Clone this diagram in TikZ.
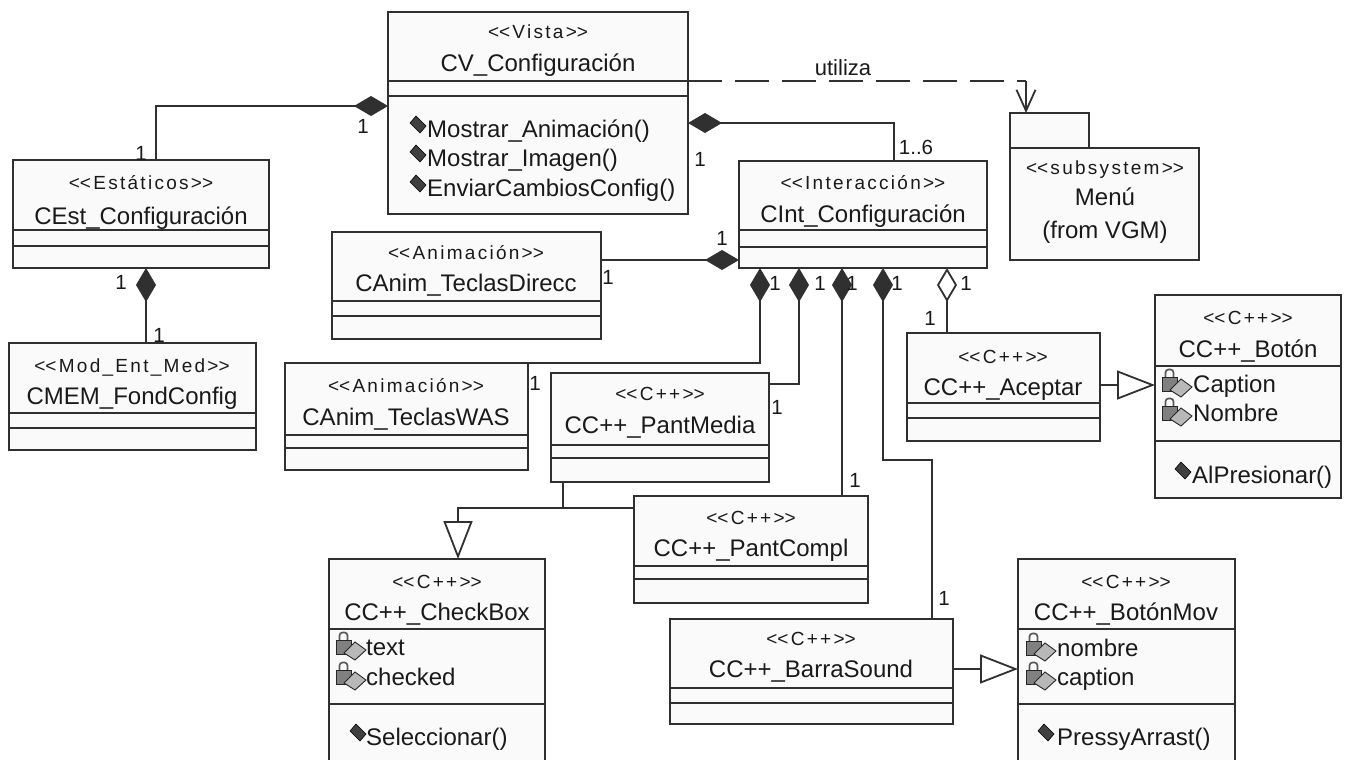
\documentclass[tikz,border=0pt]{standalone}
\usepackage{fontspec}
\setmainfont{Liberation Sans}
\newfontfamily\stfont{Liberation Sans}[LetterSpace=12]
\usetikzlibrary{arrows.meta}

\definecolor{linec}{HTML}{303030}
\definecolor{txtc}{HTML}{1A1A1A}
\definecolor{boxfill}{HTML}{FAFAFA}

\newcounter{lbl}

\tikzset{
  cbox/.style={draw=linec, fill=boxfill, line width=1.8pt, inner sep=0pt, outer sep=0pt},
  sepline/.style={draw=linec, line width=1.8pt},
  conn/.style={draw=linec, line width=1.8pt},
  comp/.style={conn, {Diamond[length=34pt, width=20pt, fill=linec]}-},
  aggr/.style={conn, {Diamond[open, length=34pt, width=20pt, fill=white]}-},
  gen/.style={conn, -{Triangle[open, length=38pt, width=29pt, fill=white]}},
  dep/.style={conn, dash pattern=on 34pt off 13pt},
  deptip/.style={conn, -{Straight Barb[length=21pt, width=19pt]}},
  stereo/.style={font=\stfont\fontsize{19}{22}\selectfont, text=txtc, anchor=base, inner sep=0pt},
  cname/.style={font=\fontsize{24}{28}\selectfont, text=txtc, anchor=base, inner sep=0pt},
  member/.style={font=\fontsize{24}{28}\selectfont, text=txtc, anchor=base west, inner sep=0pt},
  mult/.style={font=\fontsize{20.5}{24}\selectfont, text=txtc, anchor=base, inner sep=0pt},
  lockicon/.pic={
    \draw[line width=1.7pt, draw=black!65, rounded corners=3pt]
      (3.5,-14) -- (3.5,-22.5) -- (11.5,-22.5) -- (11.5,-14);
    \filldraw[fill=black!50, draw=black!85, line width=0.8pt] (0.5,-15) rectangle (15,-1);
    \filldraw[fill=black!28, draw=black!85, line width=0.9pt]
      (8,-2) -- (19,-13) -- (30,-5) -- (19,5) -- cycle;
  },
  opicon/.pic={
    \filldraw[fill=black!75, draw=black, line width=0.6pt]
      (0,-14) -- (6,-21) -- (16,-11) -- (10,-4) -- cycle;
  }
}

% class frame: name, x1, y1, x2, y2
\newcommand\boxnode[5]{%
  \node[cbox, minimum width={(#4-#2)*1pt}, minimum height={(#5-#3)*1pt}]
    (#1) at ({(#2+#4)/2},{(#3+#5)/2}) {};}
% two compartment lines of a class
\newcommand\seps[3]{%
  \draw[sepline] (#1.west |- 0,#2) -- (#1.east |- 0,#2);
  \draw[sepline] (#1.west |- 0,#3) -- (#1.east |- 0,#3);}
\newcommand\ster[3]{\stepcounter{lbl}%
  \node[stereo] (t\thelbl) at (#1,#2) {<\kern0pt<#3>\kern0pt>};}
\newcommand\cname[3]{\stepcounter{lbl}%
  \node[cname] (t\thelbl) at (#1,#2) {#3};}
\newcommand\attr[4]{\stepcounter{lbl}%
  \pic at (#1,#3) {lockicon};
  \node[member] (t\thelbl) at (#2,#3) {#4};}
\newcommand\oper[4]{\stepcounter{lbl}%
  \pic at (#1,#3) {opicon};
  \node[member] (t\thelbl) at (#2,#3) {#4};}
\newcommand\mult[3]{\stepcounter{lbl}%
  \node[mult] (m\thelbl) at (#1,#2) {#3};}

\begin{document}
\begin{tikzpicture}[x=1pt, y=-1pt]
\useasboundingbox (0,0) rectangle (1349,760);
\fill[white] (0,0) rectangle (1349,760);
\clip (0,0) rectangle (1349,760);

% ---- classes ----
\boxnode{cv}{388}{12}{688}{214}            \seps{cv}{81}{96}
\boxnode{cest}{13}{160}{269}{268}          \seps{cest}{230}{246}
\boxnode{cmem}{9}{343}{256}{450}           \seps{cmem}{413}{428}
\boxnode{canimd}{332}{232}{601}{339}       \seps{canimd}{301}{316}
\boxnode{cint}{739}{161}{987}{268}         \seps{cint}{230}{247}
\boxnode{was}{285}{363}{528}{470}          \seps{was}{435}{448}
\boxnode{pmedia}{551}{373}{769}{482}       \seps{pmedia}{445}{458}
\boxnode{pcompl}{634}{496}{868}{603}       \seps{pcompl}{566}{579}
\boxnode{bsound}{670}{619}{953}{724}       \seps{bsound}{688}{703}
\boxnode{acept}{907}{333}{1100}{441}       \seps{acept}{403}{418}
\boxnode{boton}{1155}{295}{1341}{498}      \seps{boton}{366}{441}
\boxnode{botonmov}{1018}{559}{1235}{775}   \seps{botonmov}{629}{704}
\boxnode{checkbox}{329}{559}{545}{775}     \seps{checkbox}{629}{704}

% ---- package ----
\boxnode{menutab}{1010}{113}{1089}{148}
\boxnode{menu}{1010}{148}{1199}{260}

% ---- class texts ----
\ster{538}{39}{Vista}            \cname{538}{71}{CV\_Configuración}
\oper{410}{427}{137}{Mostrar\_Animación()}
\oper{410}{427}{166}{Mostrar\_Imagen()}
\oper{410}{427}{196}{EnviarCambiosConfig()}

\ster{141}{189}{Estáticos}       \cname{141}{224}{CEst\_Configuración}
\ster{132}{372}{Mod\_Ent\_Med}   \cname{132}{404}{CMEM\_FondConfig}
\ster{466}{259}{Animación}       \cname{466}{291}{CAnim\_TeclasDirecc}
\ster{863}{189}{Interacción}     \cname{863}{222}{CInt\_Configuración}
\ster{406}{392}{Animación}       \cname{406}{425}{CAnim\_TeclasWAS}
\ster{660}{400}{C++}             \cname{660}{433}{CC++\_PantMedia}
\ster{751}{524}{C++}             \cname{751}{556}{CC++\_PantCompl}
\ster{811}{645}{C++}             \cname{811}{677}{CC++\_BarraSound}
\ster{1003}{363}{C++}            \cname{1003}{395}{CC++\_Aceptar}

\ster{1248}{324}{C++}            \cname{1248}{357}{CC++\_Botón}
\attr{1162}{1193}{392}{Caption}
\attr{1162}{1193}{421}{Nombre}
\oper{1175}{1192}{483}{AlPresionar()}

\ster{1126}{588}{C++}            \cname{1126}{620}{CC++\_BotónMov}
\attr{1026}{1057}{656}{nombre}
\attr{1026}{1057}{685}{caption}
\oper{1038}{1057}{745}{PressyArrast()}

\ster{437}{588}{C++}             \cname{437}{620}{CC++\_CheckBox}
\attr{336}{366}{655}{text}
\attr{336}{366}{685}{checked}
\oper{350}{366}{745}{Seleccionar()}

\ster{1105}{174}{subsystem}
\cname{1105}{205}{Menú}
\cname{1105}{238}{(from VGM)}

% ---- associations ----
\draw[comp] (cv.west |- 0,106) -| (cest.north -| 156,0);
\draw[comp] (cest.south -| 146,0) -- (cmem.north -| 146,0);
\draw[comp] (cv.east |- 0,123) -| (cint.north -| 894,0);
\draw[comp] (cint.west |- 0,260) -- (canimd.east |- 0,260);
\draw[comp] (cint.south -| 760,0) |- (was.north east);
\draw[comp] (cint.south -| 799,0) |- (pmedia.east |- 0,384);
\draw[comp] (cint.south -| 842,0) -- (pcompl.north -| 842,0);
\draw[comp] (cint.south -| 883,0) -- ++(0,192) -| (bsound.north -| 932,0);
\draw[aggr] (cint.south -| 947,0) -- (acept.north -| 947,0);

% ---- generalizations ----
\draw[gen] (acept.east |- 0,385) -- (boton.west |- 0,385);
\draw[gen] (bsound.east |- 0,669) -- (botonmov.west |- 0,669);
\coordinate (gj) at (563,508);
\draw[conn] (pmedia.south -| gj) -- (gj) -- (pcompl.west |- gj);
\draw[gen] (gj) -| (checkbox.north -| 458,0);

% ---- dependency ----
\coordinate (dj) at (1026,81);
\draw[dep] (cv.east |- dj) -- (dj);
\draw[deptip] (dj) -- (menutab.north -| dj);
\stepcounter{lbl}
\node[mult, font=\fontsize{22}{26}\selectfont] (t\thelbl) at (843,76) {utiliza};

% ---- multiplicities ----
\mult{363}{133}{1}  \mult{141}{160}{1}
\mult{121}{289}{1}  \mult{159}{342}{1}
\mult{700}{166}{1}  \mult{916}{154}{1..6}
\mult{608}{284}{1}  \mult{722}{245}{1}
\mult{775}{290}{1}  \mult{820}{290}{1}  \mult{852}{290}{1}
\mult{897}{290}{1}  \mult{966}{290}{1}
\mult{535}{390}{1}  \mult{777}{414}{1}
\mult{855}{487}{1}  \mult{944}{605}{1}
\mult{930}{325}{1}
\end{tikzpicture}
\end{document}
